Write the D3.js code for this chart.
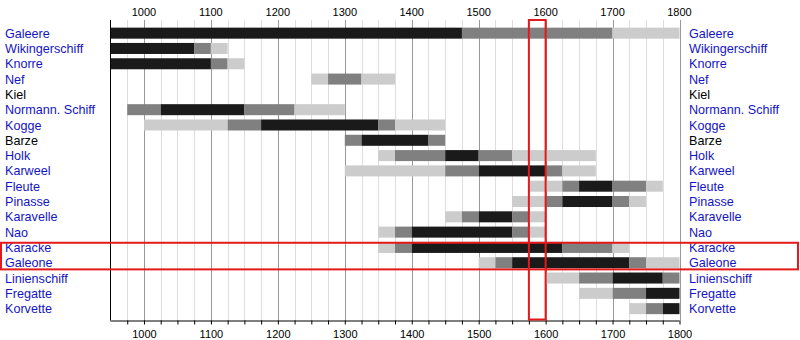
<!DOCTYPE html>
<html>
<head>
<meta charset="utf-8">
<script src="https://cdn.jsdelivr.net/npm/d3@7"></script>
<style>
  html, body { margin: 0; padding: 0; background: #fff; }
  svg { display: block; font-family: "Liberation Sans", Arial, Helvetica, sans-serif; }
</style>
</head>
<body>
<svg id="chart" width="800" height="340"></svg>
<script>
// Ship types, top to bottom; "plainNames" are drawn in black, the rest in link blue
const shipTypes = ["Galeere", "Wikingerschiff", "Knorre", "Nef", "Kiel", "Normann. Schiff",
  "Kogge", "Barze", "Holk", "Karweel", "Fleute", "Pinasse", "Karavelle", "Nao",
  "Karacke", "Galeone", "Linienschiff", "Fregatte", "Korvette"];
const plainNames = ["Kiel", "Barze"];

// Usage periods per ship: [ship, from, to, phase]  phase: 0 = emerging, 1 = transition, 2 = peak
const periods = [
  ["Galeere", 950, 1475, 2], ["Galeere", 1475, 1700, 1], ["Galeere", 1700, 1800, 0],
  ["Wikingerschiff", 950, 1075, 2], ["Wikingerschiff", 1075, 1100, 1], ["Wikingerschiff", 1100, 1125, 0],
  ["Knorre", 950, 1100, 2], ["Knorre", 1100, 1125, 1], ["Knorre", 1125, 1150, 0],
  ["Nef", 1250, 1275, 0], ["Nef", 1275, 1325, 1], ["Nef", 1325, 1375, 0],
  ["Normann. Schiff", 975, 1025, 1], ["Normann. Schiff", 1025, 1150, 2], ["Normann. Schiff", 1150, 1225, 1], ["Normann. Schiff", 1225, 1300, 0],
  ["Kogge", 1000, 1125, 0], ["Kogge", 1125, 1175, 1], ["Kogge", 1175, 1350, 2], ["Kogge", 1350, 1375, 1], ["Kogge", 1375, 1450, 0],
  ["Barze", 1300, 1325, 1], ["Barze", 1325, 1425, 2], ["Barze", 1425, 1450, 1],
  ["Holk", 1350, 1375, 0], ["Holk", 1375, 1450, 1], ["Holk", 1450, 1500, 2], ["Holk", 1500, 1550, 1], ["Holk", 1550, 1675, 0],
  ["Karweel", 1300, 1450, 0], ["Karweel", 1450, 1500, 1], ["Karweel", 1500, 1600, 2], ["Karweel", 1600, 1625, 1], ["Karweel", 1625, 1675, 0],
  ["Fleute", 1575, 1625, 0], ["Fleute", 1625, 1650, 1], ["Fleute", 1650, 1700, 2], ["Fleute", 1700, 1750, 1], ["Fleute", 1750, 1775, 0],
  ["Pinasse", 1550, 1600, 0], ["Pinasse", 1600, 1625, 1], ["Pinasse", 1625, 1700, 2], ["Pinasse", 1700, 1725, 1], ["Pinasse", 1725, 1750, 0],
  ["Karavelle", 1450, 1475, 0], ["Karavelle", 1475, 1500, 1], ["Karavelle", 1500, 1550, 2], ["Karavelle", 1550, 1575, 1], ["Karavelle", 1575, 1600, 0],
  ["Nao", 1350, 1375, 0], ["Nao", 1375, 1400, 1], ["Nao", 1400, 1550, 2], ["Nao", 1550, 1575, 1], ["Nao", 1575, 1600, 0],
  ["Karacke", 1350, 1375, 0], ["Karacke", 1375, 1400, 1], ["Karacke", 1400, 1625, 2], ["Karacke", 1625, 1700, 1], ["Karacke", 1700, 1725, 0],
  ["Galeone", 1500, 1525, 0], ["Galeone", 1525, 1550, 1], ["Galeone", 1550, 1725, 2], ["Galeone", 1725, 1750, 1], ["Galeone", 1750, 1800, 0],
  ["Linienschiff", 1600, 1650, 0], ["Linienschiff", 1650, 1700, 1], ["Linienschiff", 1700, 1775, 2], ["Linienschiff", 1775, 1800, 1],
  ["Fregatte", 1650, 1700, 0], ["Fregatte", 1700, 1750, 1], ["Fregatte", 1750, 1800, 2],
  ["Korvette", 1725, 1750, 0], ["Korvette", 1750, 1775, 1], ["Korvette", 1775, 1800, 2]
];

const yearLabels = [1000, 1100, 1200, 1300, 1400, 1500, 1600, 1700, 1800];
const yearStart = 950, yearEnd = 1800;
// Highlighted span of years and highlighted ship rows
const focusYears = [1575, 1600];
const focusShips = ["Karacke", "Galeone"];

const phaseColors = ["#cccccc", "#808080", "#1a1a1a"];
const linkBlue = "#1414c4";

const svg = d3.select("#chart");
const x = d3.scaleLinear().domain([yearStart, yearEnd]).range([110.5, 679.5]);
const y = d3.scaleBand().domain(shipTypes).range([25.5, 316.3]).paddingInner(0.28).paddingOuter(0.14);
const plotTop = 20, plotBottom = 320.5;

// grid: light every 25 years, darker every 100
const minorYears = d3.range(975, yearEnd + 1, 25);
svg.append("g").selectAll("line").data(minorYears).join("line")
  .attr("x1", d => Math.round(x(d)) + 0.5).attr("x2", d => Math.round(x(d)) + 0.5)
  .attr("y1", plotTop).attr("y2", plotBottom)
  .attr("stroke", d => d % 100 === 0 ? "#999" : "#ddd").attr("stroke-width", 1);

// bars
svg.append("g").selectAll("rect").data(periods).join("rect")
  .attr("x", d => x(d[1]))
  .attr("width", d => x(d[2]) - x(d[1]))
  .attr("y", d => y(d[0]))
  .attr("height", y.bandwidth())
  .attr("fill", d => phaseColors[d[3]]);

// left axis line
svg.append("line").attr("x1", 110.5).attr("x2", 110.5).attr("y1", plotTop).attr("y2", plotBottom)
  .attr("stroke", "#000").attr("stroke-width", 1);

// bottom axis
const bottomAxis = d3.axisBottom(x).tickValues(minorYears)
  .tickSize(4).tickFormat(d => d % 100 === 0 ? d : "");
const ga = svg.append("g").attr("transform", `translate(0,${plotBottom})`).call(bottomAxis);
ga.select(".domain").attr("d", `M${x(yearStart)},0.5H${x(yearEnd)}`).attr("stroke", "#000");
ga.selectAll("text").attr("font-size", 11).attr("font-family", "Liberation Sans, Arial, sans-serif")
  .attr("fill", "#000").attr("dy", "0.95em");

// top year labels
svg.append("g").selectAll("text").data(yearLabels).join("text")
  .attr("x", d => x(d)).attr("y", 16)
  .attr("text-anchor", "middle").attr("font-size", 11).attr("fill", "#000")
  .text(d => d);

// ship names, left and right
[5, 689].forEach(lx => {
  svg.append("g").selectAll("text").data(shipTypes).join("text")
    .attr("x", lx).attr("y", d => y(d) + y.bandwidth() / 2)
    .attr("dy", "0.36em").attr("font-size", 12.6)
    .attr("fill", d => plainNames.includes(d) ? "#000" : linkBlue)
    .text(d => d);
});

// highlight frames
const red = "#e41a1a";
svg.append("rect")
  .attr("x", x(focusYears[0])).attr("width", x(focusYears[1]) - x(focusYears[0]))
  .attr("y", plotTop).attr("height", plotBottom - plotTop - 1)
  .attr("fill", "none").attr("stroke", red).attr("stroke-width", 2);
const step = y.step();
const fy0 = y(focusShips[0]) - (step - y.bandwidth()) / 2 + 3;
const fy1 = y(focusShips[1]) + y.bandwidth() + (step - y.bandwidth()) / 2 - 1;
svg.append("rect")
  .attr("x", 1).attr("width", 797)
  .attr("y", fy0).attr("height", fy1 - fy0)
  .attr("fill", "none").attr("stroke", red).attr("stroke-width", 2);
</script>
</body>
</html>
